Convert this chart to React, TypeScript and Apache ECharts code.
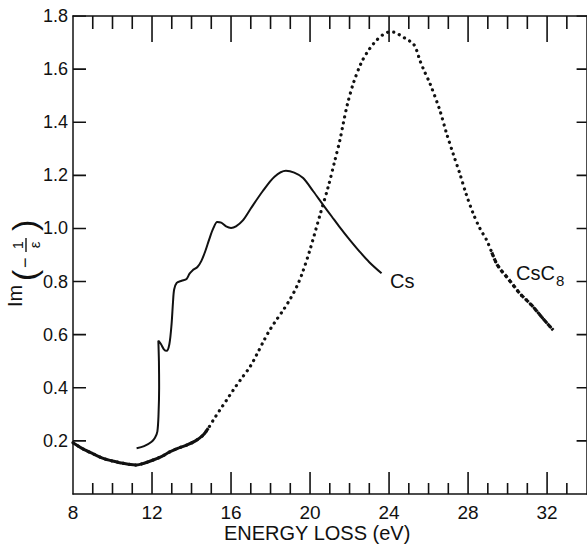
import React, { useEffect, useRef } from "react";
import * as echarts from "echarts";

// Cs (solid curve)
const csX = [11.22, 11.6, 11.98, 12.15, 12.27, 12.33, 12.36, 12.35, 12.32, 12.45, 12.6, 12.74, 12.88, 12.99, 13.06, 13.12, 13.25, 13.5, 13.75, 13.9, 14.05, 14.3, 14.5, 14.7, 14.9, 15.1, 15.3, 15.5, 15.75, 16.0, 16.25, 16.6, 17.0, 17.6, 18.2, 18.78, 19.2, 19.65, 20.16, 20.67, 21.1, 21.51, 22.02, 22.52, 23.0, 23.62];
const csY = [0.172, 0.18, 0.197, 0.212, 0.235, 0.3, 0.4, 0.5, 0.577, 0.565, 0.545, 0.539, 0.565, 0.64, 0.72, 0.77, 0.795, 0.803, 0.81, 0.83, 0.842, 0.855, 0.878, 0.915, 0.96, 1.0, 1.024, 1.022, 1.008, 1.002, 1.008, 1.03, 1.075, 1.14, 1.195, 1.217, 1.21, 1.19, 1.14, 1.088, 1.045, 1.004, 0.956, 0.912, 0.873, 0.831];

// CsC8 (dotted curve)
const c8X = [8.0, 8.5, 9.0, 9.53, 10.0, 10.38, 10.8, 11.22, 11.6, 12.06, 12.5, 12.91, 13.3, 13.75, 14.2, 14.59, 14.85, 15.1, 15.45, 15.78, 16.11, 16.5, 16.96, 17.3, 17.63, 17.9, 18.2, 18.64, 19.0, 19.32, 19.6, 19.99, 20.5, 20.92, 21.26, 21.51, 21.68, 21.9, 22.19, 22.6, 23.0, 23.37, 23.7, 24.04, 24.3, 24.55, 24.9, 25.22, 25.4, 25.56, 25.8, 26.07, 26.57, 26.91, 27.25, 27.58, 27.9, 28.26, 28.6, 28.94, 29.2, 29.44, 29.7, 29.95, 30.3, 30.62, 31.0, 31.29, 31.8, 32.31];
const c8Y = [0.193, 0.17, 0.152, 0.134, 0.124, 0.118, 0.112, 0.109, 0.116, 0.128, 0.142, 0.159, 0.172, 0.184, 0.2, 0.222, 0.248, 0.278, 0.318, 0.354, 0.391, 0.432, 0.479, 0.525, 0.573, 0.61, 0.645, 0.692, 0.735, 0.78, 0.83, 0.918, 1.05, 1.157, 1.257, 1.332, 1.395, 1.47, 1.546, 1.625, 1.675, 1.709, 1.73, 1.74, 1.738, 1.728, 1.712, 1.696, 1.67, 1.633, 1.59, 1.546, 1.445, 1.358, 1.28, 1.207, 1.13, 1.056, 1.0, 0.956, 0.91, 0.868, 0.84, 0.818, 0.785, 0.755, 0.727, 0.705, 0.66, 0.617];

// axis tick labels and tick positions
const xTicks = [8, 12, 16, 20, 24, 28, 32];
const xTickMarks = [9, 10, 11, 12, 13, 14, 15, 16, 17, 18, 19, 20, 21, 22, 23, 24, 25, 26, 27, 28, 29, 30, 31, 32, 33];
const yTicks = [0.2, 0.4, 0.6, 0.8, 1.0, 1.2, 1.4, 1.6, 1.8];

const X_MIN = 8;
const X_MAX = 34;
const Y_MIN = 0;
const Y_MAX = 1.8;

const GRID = { left: 73, right: 0.4, top: 16, bottom: 50 };
const W = 587;
const H = 544;

const FONT = "'Liberation Sans', Arial, sans-serif";
const INK = "#111";

const pairs = (xs: number[], ys: number[], from = 0, to = xs.length) =>
  xs.slice(from, to).map((x, i) => [x, ys[from + i]]);

const ls = () => ({ color: INK, width: 1.5 });

export default function App() {
  const ref = useRef<HTMLDivElement>(null);
  useEffect(() => {
    if (!ref.current) return;
    const chart = echarts.init(ref.current, null, { renderer: "svg" });
    const lowEnd = c8X.findIndex((x) => x >= 14.6) + 1;
    const tailStart = c8X.findIndex((x) => x >= 29.2);

    // tick lengths: pixels converted to data units of the axes
    const ky = (Y_MAX - Y_MIN) / (H - GRID.top - GRID.bottom);
    const kx = (X_MAX - X_MIN) / (W - GRID.left - GRID.right);

    const tickLine = (a: number[], b: number[]) => ({
      type: "line",
      data: [a, b],
      showSymbol: false,
      symbol: "none",
      smooth: false,
      silent: true,
      z: 3,
      lineStyle: { color: INK, width: 1.6 },
    });
    const tickSeries: any[] = [];
    xTickMarks.forEach((v) => {
      const major = xTicks.includes(v);
      tickSeries.push(tickLine([v, Y_MIN], [v, Y_MIN + (major ? 22 : 11) * ky]));
      tickSeries.push(tickLine([v, Y_MAX], [v, Y_MAX - (major ? 26 : 13) * ky]));
    });
    yTicks.forEach((v) => {
      tickSeries.push(tickLine([X_MIN, v], [X_MIN + 13 * kx, v]));
      tickSeries.push(tickLine([X_MAX, v], [X_MAX - 10 * kx, v]));
    });

    const xAxisBase = () => ({
      type: "value",
      min: X_MIN,
      max: X_MAX,
      interval: 4,
      splitLine: { show: false },
      axisTick: { show: false },
    });
    const yAxisBase = () => ({
      type: "value",
      min: Y_MIN,
      max: Y_MAX,
      interval: 0.2,
      splitLine: { show: false },
      axisTick: { show: false },
    });

    chart.setOption({
      animation: false,
      grid: GRID,
      xAxis: [
        {
          ...xAxisBase(),
          position: "bottom",
          axisLine: { show: true, onZero: false, lineStyle: ls() },
          axisLabel: {
            color: INK,
            fontSize: 19,
            fontFamily: FONT,
            margin: 9,
            showMaxLabel: false,
            formatter: (v: number) => (xTicks.includes(v) ? String(v) : ""),
          },
        },
        {
          ...xAxisBase(),
          position: "top",
          axisLine: { show: true, onZero: false, lineStyle: ls() },
          axisLabel: { show: false },
        },
      ],
      yAxis: [
        {
          ...yAxisBase(),
          position: "left",
          axisLine: { show: true, onZero: false, lineStyle: ls() },
          axisLabel: {
            show: true,
            color: INK,
            fontSize: 18,
            fontFamily: FONT,
            margin: 5,
            showMinLabel: false,
            formatter: (v: number) => {
              const t = yTicks.find((k) => Math.abs(k - v) < 1e-6);
              return t !== undefined ? t.toFixed(1) : "";
            },
          },
        },
        {
          ...yAxisBase(),
          position: "right",
          axisLine: { show: true, onZero: false, lineStyle: ls() },
          axisLabel: { show: false },
        },
      ],
      series: [
        ...tickSeries,
        {
          name: "Cs",
          type: "line",
          data: pairs(csX, csY),
          showSymbol: false,
          symbol: "none",
          smooth: 0.3,
          lineStyle: { color: INK, width: 2 },
        },
        {
          name: "CsC8",
          type: "line",
          data: pairs(c8X, c8Y),
          showSymbol: false,
          symbol: "none",
          smooth: 0.3,
          lineStyle: { color: INK, width: 3.2, type: [0.1, 6], cap: "round" },
        },
        {
          name: "CsC8 low",
          type: "line",
          data: pairs(c8X, c8Y, 0, lowEnd),
          showSymbol: false,
          symbol: "none",
          smooth: 0.3,
          lineStyle: { color: INK, width: 3 },
        },
        {
          name: "CsC8 tail",
          type: "line",
          data: pairs(c8X, c8Y, tailStart),
          showSymbol: false,
          symbol: "none",
          smooth: 0.3,
          lineStyle: { color: INK, width: 3.2, type: [4, 2.5] },
        },
      ],
      graphic: [
        {
          type: "text",
          left: 224,
          top: 523,
          style: { text: "ENERGY LOSS (eV)", fontSize: 20, fontFamily: FONT, fill: INK },
        },
        {
          type: "text",
          x: 390,
          y: 281,
          style: { text: "Cs", fontSize: 20, fontFamily: FONT, fill: INK, verticalAlign: "middle" },
        },
        {
          type: "text",
          x: 516,
          y: 273,
          style: { text: "CsC", fontSize: 20, fontFamily: FONT, fill: INK, verticalAlign: "middle" },
        },
        {
          type: "text",
          x: 556,
          y: 280,
          style: { text: "8", fontSize: 15, fontFamily: FONT, fill: INK, verticalAlign: "middle" },
        },
        {
          type: "group",
          x: 22,
          y: 307,
          rotation: Math.PI / 2,
          children: [
            { type: "text", x: 0, y: -7, style: { text: "Im", fontSize: 20, fontFamily: FONT, fill: INK, verticalAlign: "middle" } },
            { type: "text", x: 26, y: 2, style: { text: "(", fontSize: 34, fontFamily: FONT, fill: INK, verticalAlign: "middle" } },
            { type: "text", x: 39, y: 3, style: { text: "−", fontSize: 18, fontFamily: FONT, fill: INK, verticalAlign: "middle" } },
            { type: "text", x: 62, y: -4, style: { text: "1", fontSize: 14, fontFamily: FONT, fill: INK, align: "center", verticalAlign: "middle" } },
            { type: "rect", shape: { x: 55, y: 3.3, width: 14, height: 1.4 }, style: { fill: INK } },
            { type: "text", x: 62, y: 12, style: { text: "ε", fontSize: 15, fontFamily: FONT, fill: INK, align: "center", verticalAlign: "middle" } },
            { type: "text", x: 76, y: 2, style: { text: ")", fontSize: 34, fontFamily: FONT, fill: INK, verticalAlign: "middle" } },
          ],
        },
      ],
    });
    return () => chart.dispose();
  }, []);
  return <div ref={ref} style={{ position: "absolute", left: 0, top: 0, width: W, height: H, background: "#fff" }} />;
}
